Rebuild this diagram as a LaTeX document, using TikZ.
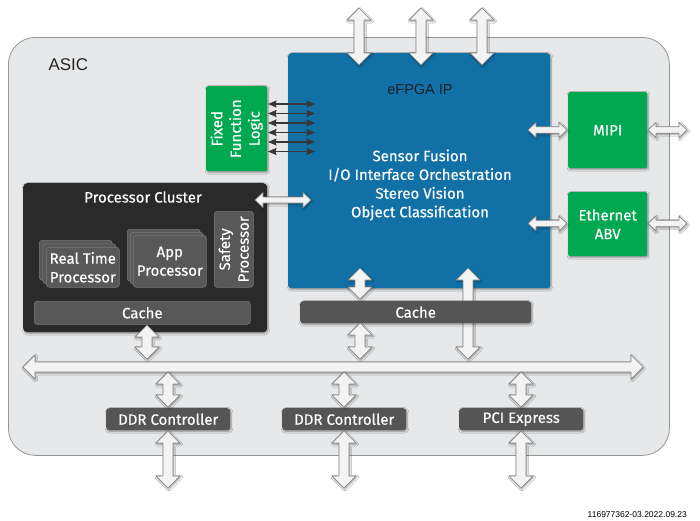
\documentclass[tikz,border=0pt]{standalone}
\usepackage{fontspec}
\setmainfont{Fira Sans}[FakeBold=0.35]
\newfontfamily\helv{Liberation Sans}
\usetikzlibrary{shadows.blur,arrows.meta,calc}
\definecolor{asicfill}{RGB}{231,232,233}
\definecolor{asicline}{RGB}{150,150,150}
\definecolor{efpgablue}{RGB}{17,113,166}
\definecolor{efpgalbl}{RGB}{25,30,40}
\definecolor{boxgreen}{RGB}{0,168,80}
\definecolor{clusterfill}{RGB}{42,42,42}
\definecolor{innerfill}{RGB}{88,88,88}
\definecolor{innerline}{RGB}{120,120,120}
\definecolor{darkfill}{RGB}{85,85,85}
\definecolor{arrowfill}{RGB}{243,243,243}
\definecolor{arrowline}{RGB}{135,135,135}
\definecolor{arrowdark}{RGB}{55,55,55}
\newcommand{\dfont}{\fontsize{15}{18.7}\selectfont}
\newcommand{\vfat}[5]{%
  \draw[fatarrow] (#1) -- ++(#3,#5) -- ++({-(#3-#4)},0) -- ($(#2)+(#4,-#5)$) -- ++({#3-#4},0) -- (#2)
   -- ++(-#3,-#5) -- ++({#3-#4},0) -- ($(#1)+(-#4,#5)$) -- ++({-(#3-#4)},0) -- cycle;}
\newcommand{\hfat}[5]{%
  \draw[fatarrow] (#1) -- ++(#5,-#3) -- ++(0,{#3-#4}) -- ($(#2)+(-#5,-#4)$) -- ++(0,{-(#3-#4)}) -- (#2)
   -- ++(-#5,#3) -- ++(0,{-(#3-#4)}) -- ($(#1)+(#5,#4)$) -- ++(0,{#3-#4}) -- cycle;}
\tikzset{
  softshadow/.style={blur shadow={shadow blur steps=6, shadow xshift=0.8pt, shadow yshift=-1.2pt, shadow blur radius=1.8pt, shadow opacity=40}},
  asicbox/.style={draw=asicline, line width=0.8pt, fill=asicfill, rounded corners=27pt, inner sep=0pt},
  bluebox/.style={fill=efpgablue, rounded corners=3pt, softshadow, inner sep=0pt},
  greenbox/.style={fill=boxgreen, rounded corners=2pt, softshadow, text=white, font=\dfont, align=center, inner sep=0pt},
  clusterbox/.style={fill=clusterfill, rounded corners=4pt, softshadow, inner sep=0pt},
  innerbox/.style={fill=innerfill, draw=innerline, line width=0.6pt, rounded corners=3pt, text=white, font=\dfont, align=center, inner sep=0pt},
  darkbox/.style={fill=darkfill, rounded corners=3pt, softshadow, text=white, font=\dfont, align=center, inner sep=0pt},
  fatarrow/.style={fill=arrowfill, draw=arrowline, line width=0.7pt, line join=round, softshadow},
  thinarr/.style={draw=arrowdark, line width=1.2pt, {Stealth[length=8.5pt,width=7pt,inset=1pt]}-{Stealth[length=8.5pt,width=7pt,inset=1pt]}},
  whitetext/.style={text=white, font=\dfont, align=center}
}
\begin{document}
\begin{tikzpicture}[x=1pt,y=-1pt]
\useasboundingbox[fill=white] (0,0) rectangle (700,520);
% ASIC
\node[asicbox, anchor=north west, minimum width=661pt, minimum height=418pt] (asic) at (8,37) {};
\node[anchor=base west, font=\helv\fontsize{17}{18}\selectfont, text=black!85] (asiclabel) at (45,70.5) {ASIC};
% eFPGA
\node[bluebox, anchor=north west, minimum width=262pt, minimum height=235pt] (efpga) at (288,53) {};
\node[anchor=base, font=\helv\fontsize{14.5}{16}\selectfont, text=efpgalbl] (efpgalabel) at (420,94.3) {eFPGA IP};
\node[whitetext] (efpgatext) at (420,185) {Sensor Fusion\\I/O Interface Orchestration\\Stereo Vision\\Object Classification};
% top arrows
\coordinate (t1a) at (359,8); \coordinate (t1b) at (359,65);
\coordinate (t2a) at (421,8); \coordinate (t2b) at (421,65);
\coordinate (t3a) at (482,8); \coordinate (t3b) at (482,65);
\vfat{t1a}{t1b}{12}{5}{12}
\vfat{t2a}{t2b}{12}{5}{12}
\vfat{t3a}{t3b}{12}{5}{12}
% Fixed function logic
\node[greenbox, anchor=north west, minimum width=61pt, minimum height=85pt] (ffl) at (206,86) {};
\node[whitetext, rotate=90] (ffltext) at (ffl.center) {Fixed\\Function\\Logic};
\foreach \i/\yy in {1/104,2/113.5,3/123,4/132.5,5/142,6/151.5}{
  \coordinate (fa\i) at (268,\yy); \coordinate (fb\i) at (315,\yy);
  \draw[thinarr] (fa\i) -- (fb\i);
}
% MIPI / Ethernet
\node[greenbox, anchor=north west, minimum width=79pt, minimum height=76pt] (mipi) at (568,92) {MIPI};
\node[greenbox, anchor=north west, minimum width=79pt, minimum height=64pt] (eth) at (568,192) {Ethernet\\ABV};
\coordinate (m1a) at (528,130); \coordinate (m1b) at (567,130);
\coordinate (m2a) at (648,130); \coordinate (m2b) at (687,130);
\coordinate (e1a) at (528,223.5); \coordinate (e1b) at (567,223.5);
\coordinate (e2a) at (648,223.5); \coordinate (e2b) at (687,223.5);
\hfat{m1a}{m1b}{7.5}{3.2}{8}
\hfat{m2a}{m2b}{7.5}{3.2}{8}
\hfat{e1a}{e1b}{7.5}{3.2}{8}
\hfat{e2a}{e2b}{7.5}{3.2}{8}
% long arrow behind cache
\coordinate (r1a) at (468,268); \coordinate (r1b) at (468,359);
\vfat{r1a}{r1b}{12}{5}{12}
\node[darkbox, anchor=north west, minimum width=231pt, minimum height=22pt] (fcache) at (300,301) {Cache};
\coordinate (c1a) at (360,268); \coordinate (c1b) at (360,299);
\coordinate (c2a) at (360,323); \coordinate (c2b) at (360,359);
\vfat{c1a}{c1b}{12}{5}{12}
\vfat{c2a}{c2b}{12}{5}{12}
% Processor cluster
\node[clusterbox, anchor=north west, minimum width=244pt, minimum height=149pt] (cluster) at (23,183) {};
\node[whitetext] (cltitle) at (143,197) {Processor Cluster};
\node[innerbox, anchor=north west, minimum width=73pt, minimum height=40pt] (rtb2) at (39,240) {};
\node[innerbox, anchor=north west, minimum width=73pt, minimum height=40pt] (rtb1) at (42.5,243.5) {};
\node[innerbox, anchor=north west, minimum width=73pt, minimum height=40pt] (rt) at (46,247) {Real Time\\Processor};
\node[innerbox, anchor=north west, minimum width=73pt, minimum height=52pt] (appb2) at (127,229) {};
\node[innerbox, anchor=north west, minimum width=73pt, minimum height=52pt] (appb1) at (130,232) {};
\node[innerbox, anchor=north west, minimum width=73pt, minimum height=52pt] (app) at (133,235) {App\\Processor};
\node[innerbox, anchor=north west, minimum width=39pt, minimum height=76pt] (safety) at (214,211) {};
\node[whitetext, rotate=90] (safetytext) at (safety.center) {Safety\\Processor};
\node[innerbox, anchor=north west, minimum width=216pt, minimum height=23pt] (ccache) at (34,301) {Cache};
\coordinate (s1a) at (255,200); \coordinate (s1b) at (311,200);
\hfat{s1a}{s1b}{7.5}{3}{8}
\coordinate (p1a) at (147,325); \coordinate (p1b) at (147,359);
\vfat{p1a}{p1b}{12}{5}{12}
% bus
\coordinate (busl) at (23,367); \coordinate (busr) at (643,367);
\hfat{busl}{busr}{12}{5}{12}
% controllers
\node[darkbox, anchor=north west, minimum width=124pt, minimum height=22pt] (ddr1) at (106,408) {DDR Controller};
\node[darkbox, anchor=north west, minimum width=124pt, minimum height=22pt] (ddr2) at (282,408) {DDR Controller};
\node[darkbox, anchor=north west, minimum width=124pt, minimum height=22pt] (pcie) at (459,408) {PCI Express};
\foreach \n/\xx in {d1/168,d2/344,d3/521}{
  \coordinate (\n ua) at (\xx,372); \coordinate (\n ub) at (\xx,407);
  \coordinate (\n la) at (\xx,431); \coordinate (\n lb) at (\xx,488);
  \vfat{\n ua}{\n ub}{12}{5}{12}
  \vfat{\n la}{\n lb}{12}{5}{12}
}
% caption
\node[anchor=base east, font=\helv\fontsize{8.5}{10}\selectfont, inner sep=0pt] (caption) at (687,517) {116977362-03.2022.09.23};
\end{tikzpicture}
\end{document}
